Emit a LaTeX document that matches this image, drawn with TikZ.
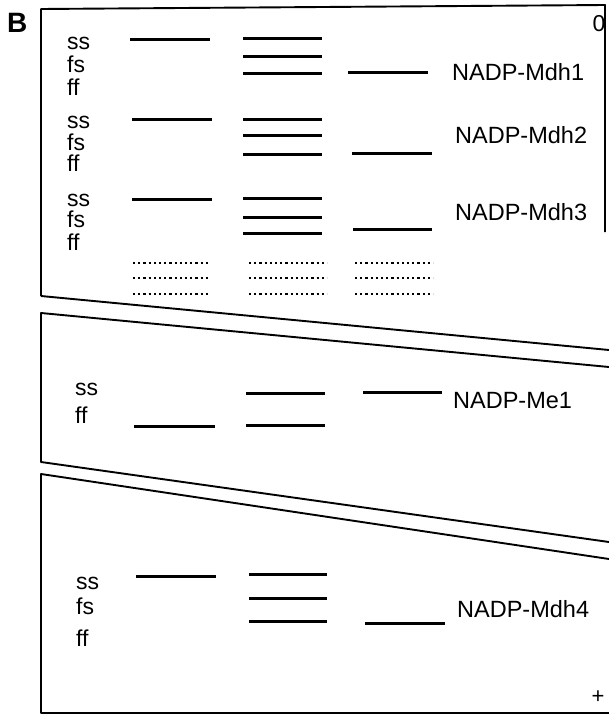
\documentclass[tikz,border=0pt]{standalone}
\usepackage{fontspec}
\setmainfont{Liberation Sans}
\begin{document}
\begin{tikzpicture}[x=1pt,y=-1pt,
  panel/.style={line width=1.9pt, line join=round},
  band/.style={line width=3pt},
  dotband/.style={line width=2.6pt, dash pattern=on 2.2pt off 3pt},
  geno/.style={font=\fontsize{23}{23}\selectfont, inner sep=0pt, anchor=base west},
  locus/.style={font=\fontsize{23.5}{23.5}\selectfont, inner sep=0pt, anchor=base west}]
\useasboundingbox (0,0) rectangle (609,717);

% panel letter
\node[inner sep=0pt, anchor=base west, font=\fontsize{28}{28}\selectfont\bfseries] (lettB) at (7,33) {B};

% ---------- gel 1: NADP-Mdh1/2/3 ----------
\draw[panel] (41,296) -- (41,9) -- (605,5) -- (605,232);
\draw[panel] (41,296) -- (609,350);
\node[inner sep=0pt, anchor=base, font=\fontsize{23}{23}\selectfont] (orig) at (599,32) {0};

\node[geno] (g1ss) at (67,50) {ss};
\node[geno] (g1fs) at (67,72) {fs};
\node[geno] (g1ff) at (67,95) {ff};
\node[geno] (g2ss) at (67,128) {ss};
\node[geno] (g2fs) at (67,150) {fs};
\node[geno] (g2ff) at (67,171) {ff};
\node[geno] (g3ss) at (67,206) {ss};
\node[geno] (g3fs) at (67,227) {fs};
\node[geno] (g3ff) at (67,250) {ff};

% ss lane
\draw[band] (130,40) -- (210,40);
\draw[band] (132,119) -- (212,119);
\draw[band] (132,199) -- (212,199);
% fs lane
\foreach \y in {39,57,73, 119,135,154, 198,217,233}
  \draw[band] (243,\y) -- (322,\y);
% ff lane
\draw[band] (348,72) -- (428,72);
\draw[band] (352,153) -- (432,153);
\draw[band] (353,229) -- (432,229);
% faint bands
\foreach \y in {263,278,294} {
  \draw[dotband] (133,\y) -- (210,\y);
  \draw[dotband] (249,\y) -- (327,\y);
  \draw[dotband] (355,\y) -- (433,\y);
}

\node[locus] (mdh1) at (452,80) {NADP-Mdh1};
\node[locus] (mdh2) at (455,143) {NADP-Mdh2};
\node[locus] (mdh3) at (455,220) {NADP-Mdh3};

% ---------- gel 2: NADP-Me1 ----------
\draw[panel] (609,367) -- (41,313) -- (41,462) -- (609,542);
\node[geno] (h1ss) at (75,395) {ss};
\node[geno] (h1ff) at (75,423) {ff};
\draw[band] (134,426) -- (215,426);
\draw[band] (246,393) -- (325,393);
\draw[band] (246,425) -- (325,425);
\draw[band] (363,392) -- (442,392);
\node[locus] (me1) at (453,408) {NADP-Me1};

% ---------- gel 3: NADP-Mdh4 ----------
\draw[panel] (609,559) -- (41,474) -- (41,713) -- (609,713);
\node[geno] (k1ss) at (76,589) {ss};
\node[geno] (k1fs) at (76,614) {fs};
\node[geno] (k1ff) at (76,646) {ff};
\draw[band] (136,576) -- (216,576);
\draw[band] (249,574) -- (327,574);
\draw[band] (249,598) -- (327,598);
\draw[band] (249,621) -- (327,621);
\draw[band] (365,623) -- (445,623);
\node[locus] (mdh4) at (457,617) {NADP-Mdh4};
\node[inner sep=0pt, anchor=center, font=\fontsize{22}{22}\selectfont] (anode) at (598,697) {+};
\end{tikzpicture}
\end{document}
